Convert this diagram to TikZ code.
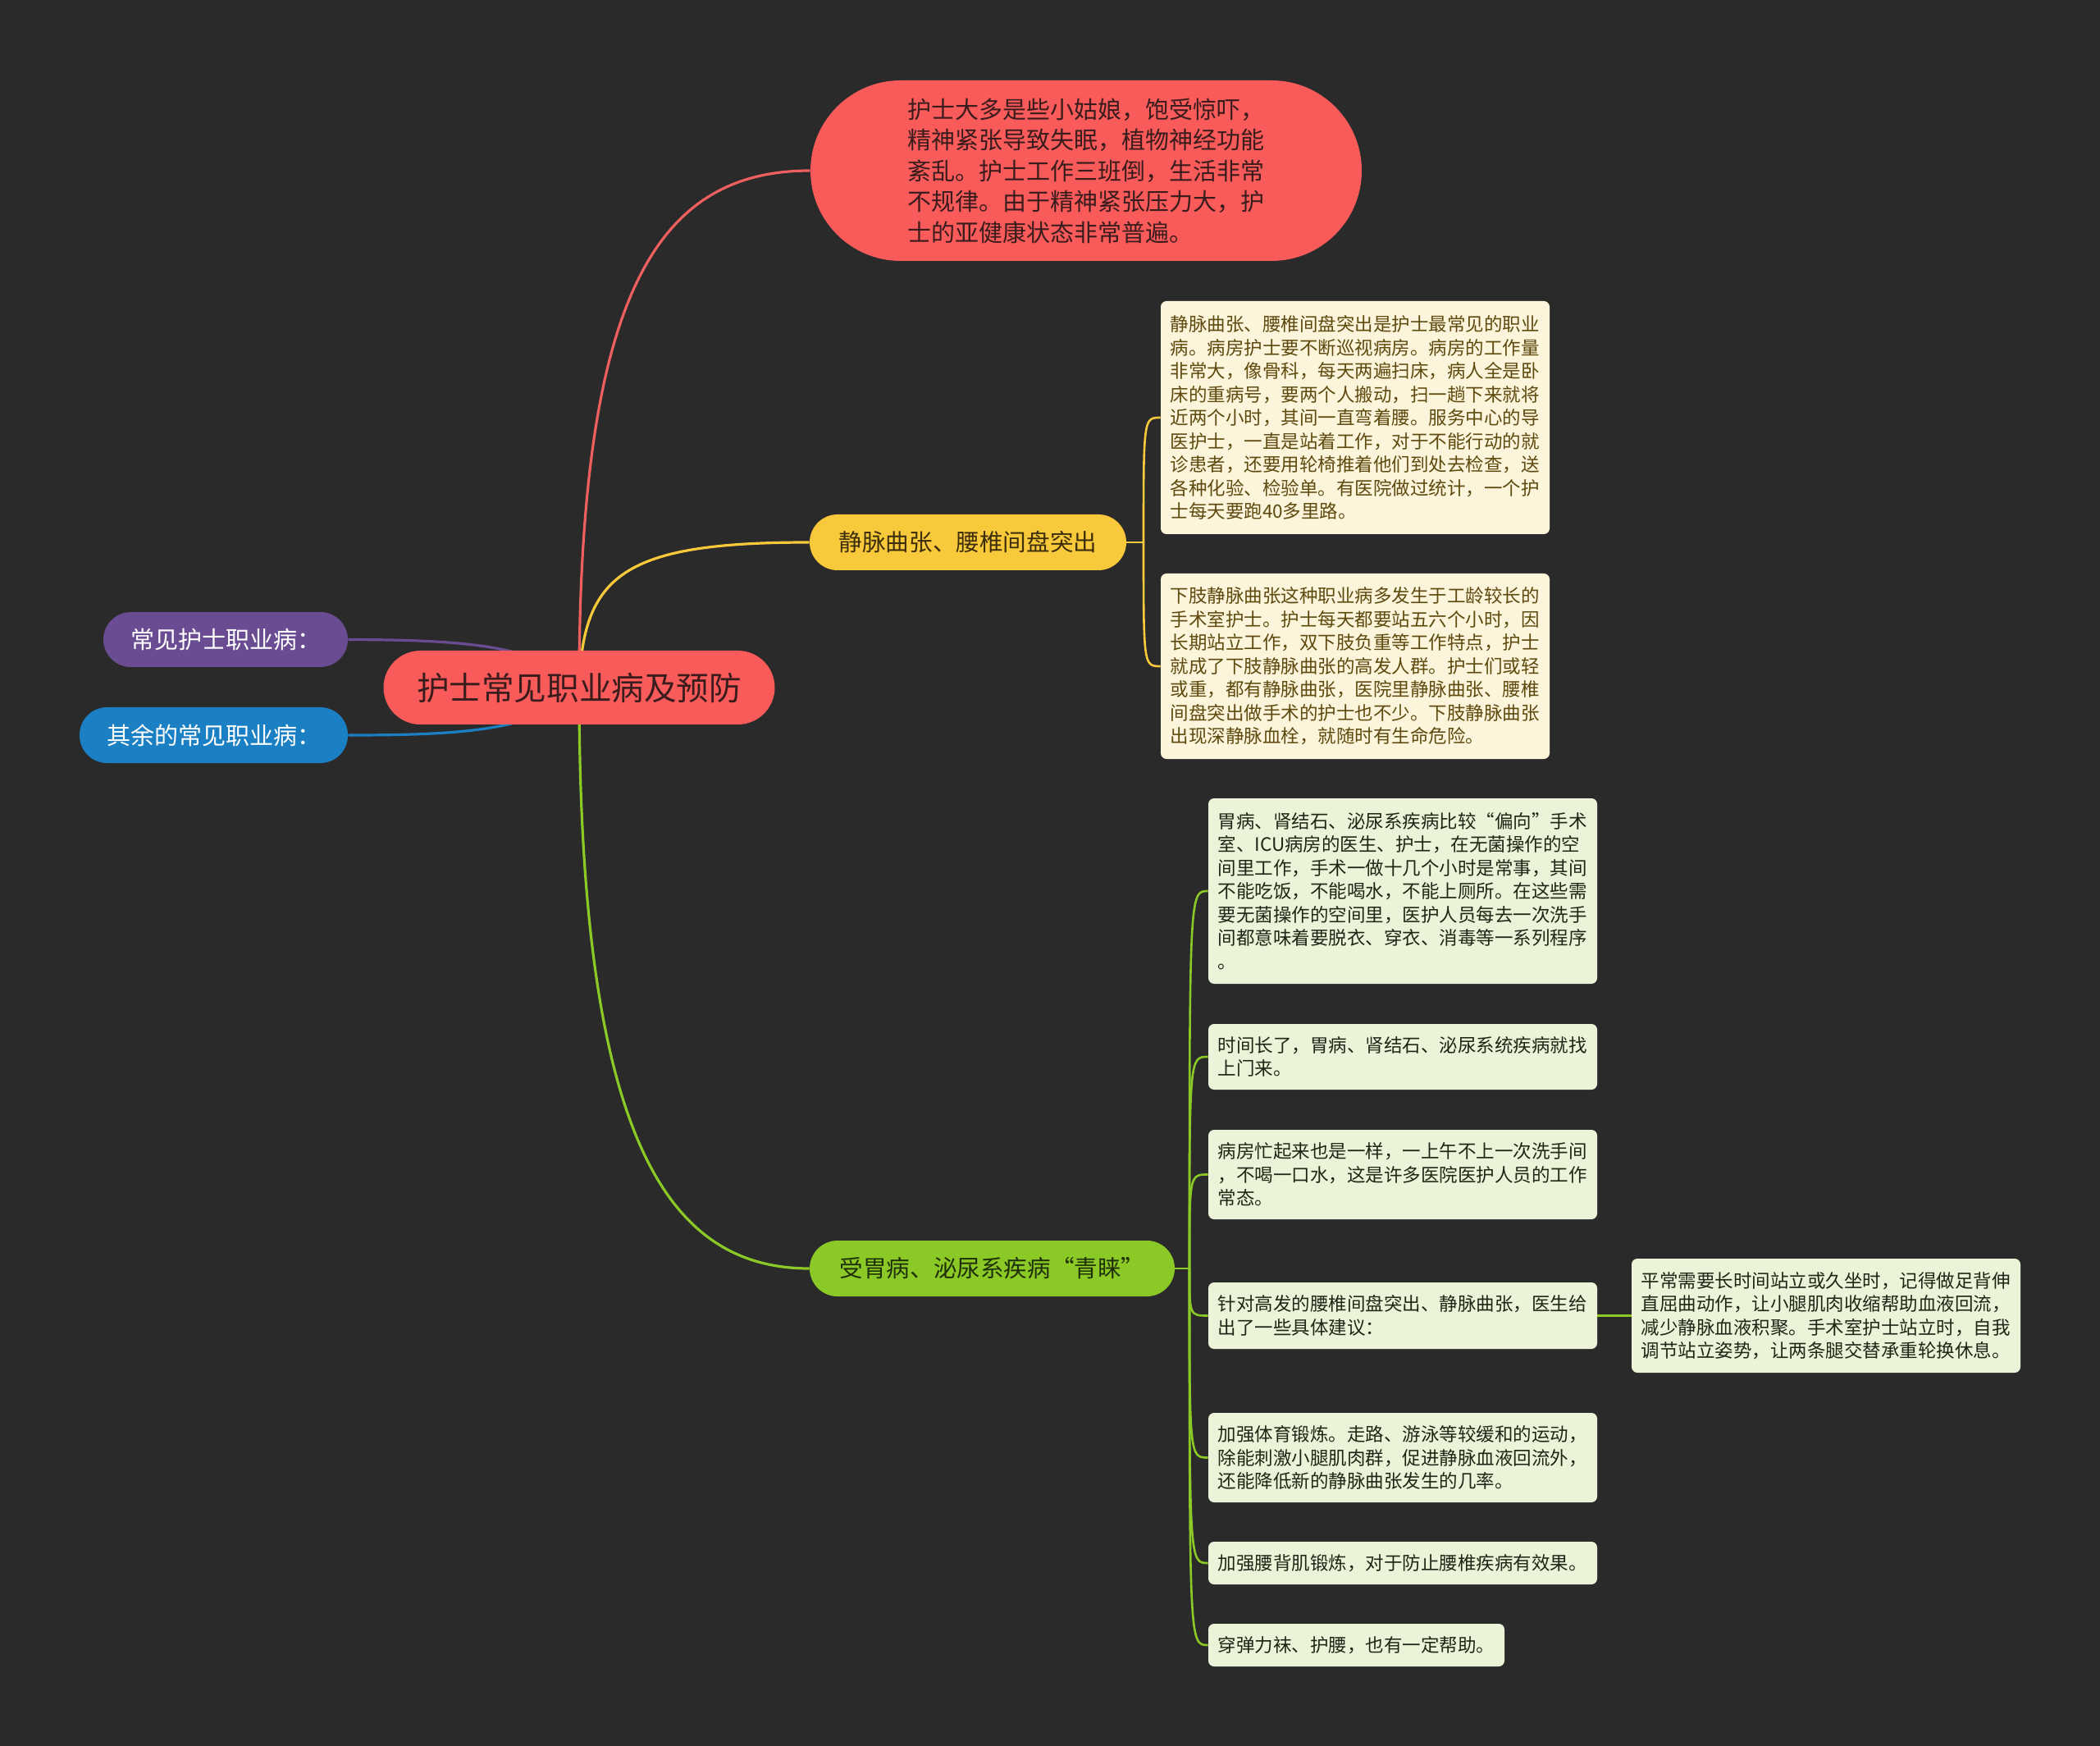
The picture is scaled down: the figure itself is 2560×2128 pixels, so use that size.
\documentclass[tikz,border=0pt]{standalone}
\usepackage{fontspec}
\setmainfont{Noto Sans CJK SC}
\pgfdeclarelayer{bglayer}
\pgfdeclarelayer{edgelayer}
\pgfsetlayers{bglayer,edgelayer,main}
\definecolor{bgcol}{HTML}{2A2A2A}
\definecolor{redc}{HTML}{F95A5A}
\definecolor{redline}{HTML}{EE5F5F}
\definecolor{yelc}{HTML}{F9C93C}
\definecolor{grnc}{HTML}{8AC926}
\definecolor{purc}{HTML}{6A4C93}
\definecolor{bluc}{HTML}{1B80C3}
\definecolor{yleaf}{HTML}{FCF5DB}
\definecolor{gleaf}{HTML}{EBF4D9}
\definecolor{ytext}{HTML}{5E4A0E}
\definecolor{gtext}{HTML}{1F2616}
\definecolor{rtext}{HTML}{3A1C1C}
\definecolor{btext}{HTML}{3D2E0A}
\definecolor{gbtext}{HTML}{1F3008}
\tikzset{
  pill/.style={inner sep=0pt, align=center},
  rootbox/.style={pill, fill=redc, text=rtext, rounded corners=22.5pt,
     minimum width=238.5pt, minimum height=45pt, font=\fontsize{19.8}{24}\selectfont},
  topbox/.style={inner sep=0pt, align=left, fill=redc, text=rtext, rounded corners=55pt,
     minimum width=336pt, minimum height=110pt, font=\fontsize{14.5}{18.75}\selectfont},
  ybranch/.style={pill, fill=yelc, text=btext, rounded corners=17pt,
     minimum width=193pt, minimum height=34pt, font=\fontsize{14.3}{17}\selectfont},
  gbranch/.style={pill, fill=grnc, text=gbtext, rounded corners=17pt,
     minimum width=222.5pt, minimum height=34pt, font=\fontsize{14.3}{17}\selectfont},
  sidebox/.style={pill, text=white, rounded corners=16.75pt,
     minimum height=33.5pt, font=\fontsize{14.5}{17}\selectfont},
  leaf/.style={align=left, inner xsep=5.75pt, inner ysep=0pt, rounded corners=3.5pt,
     text width=225.5pt, font=\fontsize{11.25}{14.25}\selectfont},
  yleafbox/.style={leaf, fill=yleaf, text=ytext},
  gleafbox/.style={leaf, fill=gleaf, text=gtext},
  mainline/.style={line width=1.6pt},
  subline/.style={line width=1.3pt},
}
\begin{document}
\begin{tikzpicture}[x=0.5pt,y=-0.5pt]
\begin{pgfonlayer}{bglayer}
\fill[bgcol] (0,0) rectangle (2560,2128);
\end{pgfonlayer}
\useasboundingbox (0,0) rectangle (2560,2128);

% main nodes
\node[rootbox] (root) at (706,838) {护士常见职业病及预防};
\node[topbox] (top) at (1324,208) {护士大多是些小姑娘，饱受惊吓，\\
精神紧张导致失眠，植物神经功能\\
紊乱。护士工作三班倒，生活非常\\
不规律。由于精神紧张压力大，护\\
士的亚健康状态非常普遍。};
\node[ybranch] (yb) at (1180,661) {静脉曲张、腰椎间盘突出};
\node[gbranch] (gb) at (1209.5,1546) {受胃病、泌尿系疾病“青睐”};
\node[sidebox, fill=purc, minimum width=149pt] (pur) at (275,779.5) {常见护士职业病：};
\node[sidebox, fill=bluc, minimum width=163.5pt, minimum height=34pt] (blu) at (260.5,896) {其余的常见职业病：};

% yellow leaves
\node[yleafbox, minimum height=142pt] (y1) at (1652,509) {静脉曲张、腰椎间盘突出是护士最常见的职业\\
病。病房护士要不断巡视病房。病房的工作量\\
非常大，像骨科，每天两遍扫床，病人全是卧\\
床的重病号，要两个人搬动，扫一趟下来就将\\
近两个小时，其间一直弯着腰。服务中心的导\\
医护士，一直是站着工作，对于不能行动的就\\
诊患者，还要用轮椅推着他们到处去检查，送\\
各种化验、检验单。有医院做过统计，一个护\\
士每天要跑40多里路。};
\node[yleafbox, minimum height=113pt] (y2) at (1652,812) {下肢静脉曲张这种职业病多发生于工龄较长的\\
手术室护士。护士每天都要站五六个小时，因\\
长期站立工作，双下肢负重等工作特点，护士\\
就成了下肢静脉曲张的高发人群。护士们或轻\\
或重，都有静脉曲张，医院里静脉曲张、腰椎\\
间盘突出做手术的护士也不少。下肢静脉曲张\\
出现深静脉血栓，就随时有生命危险。};

% green leaves
\node[gleafbox, minimum height=113pt] (ga) at (1710,1086) {胃病、肾结石、泌尿系疾病比较“偏向”手术\\
室、ICU病房的医生、护士，在无菌操作的空\\
间里工作，手术一做十几个小时是常事，其间\\
不能吃饭，不能喝水，不能上厕所。在这些需\\
要无菌操作的空间里，医护人员每去一次洗手\\
间都意味着要脱衣、穿衣、消毒等一系列程序\\
。};
\node[gleafbox, minimum height=40pt] (gbb) at (1710,1288) {时间长了，胃病、肾结石、泌尿系统疾病就找\\
上门来。};
\node[gleafbox, minimum height=54.5pt] (gc) at (1710,1431.5) {病房忙起来也是一样，一上午不上一次洗手间\\
，不喝一口水，这是许多医院医护人员的工作\\
常态。};
\node[gleafbox, minimum height=40.5pt] (gd) at (1710,1603.5) {针对高发的腰椎间盘突出、静脉曲张，医生给\\
出了一些具体建议：};
\node[gleafbox, minimum height=54.5pt] (ge) at (1710,1776.5) {加强体育锻炼。走路、游泳等较缓和的运动，\\
除能刺激小腿肌肉群，促进静脉血液回流外，\\
还能降低新的静脉曲张发生的几率。};
\node[gleafbox, minimum height=26pt] (gf) at (1710,1905) {加强腰背肌锻炼，对于防止腰椎疾病有效果。};
\node[gleafbox, minimum height=26pt, text width=169pt] (gg) at (1653.5,2005) {穿弹力袜、护腰，也有一定帮助。};
\node[gleafbox, minimum height=69.5pt] (gh) at (2226,1603.5) {平常需要长时间站立或久坐时，记得做足背伸\\
直屈曲动作，让小腿肌肉收缩帮助血液回流，\\
减少静脉血液积聚。手术室护士站立时，自我\\
调节站立姿势，让两条腿交替承重轮换休息。};

\coordinate (yj) at (1394,661);
\coordinate (gj) at (1450,1546);

\begin{pgfonlayer}{edgelayer}
\draw[mainline, redline] (root.center) .. controls (706,360) and (800,208) .. (top.west);
\draw[mainline, yelc] (root.center) .. controls (710,700) and (760,661) .. (yb.west);
\draw[mainline, grnc] (root.center) .. controls (706,1380) and (810,1546) .. (gb.west);
\draw[mainline, purc] (pur.east) .. controls (560,780) and (660,785) .. (root.center);
\draw[mainline, bluc] (blu.east) .. controls (560,896) and (660,891) .. (root.center);

\draw[subline, yelc] (yb.east) -- (yj);
\draw[subline, yelc] (yj) .. controls (1394,509) .. (y1.west);
\draw[subline, yelc] (yj) .. controls (1394,812) .. (y2.west);

\draw[subline, grnc] (gb.east) -- (gj);
\foreach \n/\yy in {ga/1086, gbb/1288, gc/1431.5, gd/1603.5, ge/1776.5, gf/1905, gg/2005}{
  \draw[subline, grnc] (gj) .. controls (1450,\yy) .. (\n.west);
}
\draw[subline, grnc] (gd.east) -- (gh.west);
\end{pgfonlayer}
\end{tikzpicture}
\end{document}
